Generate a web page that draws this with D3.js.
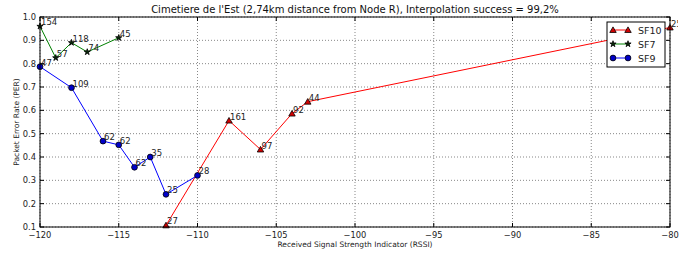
<!DOCTYPE html>
<html>
<head>
<meta charset="utf-8">
<script src="https://cdn.jsdelivr.net/npm/d3@7"></script>
<style>
  body { margin: 0; background: #fff; }
  svg { font-family: "DejaVu Sans", sans-serif; }
</style>
</head>
<body>
<div id="chart"></div>
<script>
const width = 691;
const height = 253;
const margin = { top: 17, right: 21, bottom: 26, left: 40 };

// data
const sf10_rssi = [-112, -108, -106, -104, -103, -80];
const sf10_per = [0.107, 0.556, 0.432, 0.586, 0.637, 0.955];
const sf10_n = [27, 161, 97, 92, 44, 25];

const sf7_rssi = [-120, -119, -118, -117, -115];
const sf7_per = [0.96, 0.825, 0.89, 0.85, 0.911];
const sf7_n = [154, 57, 118, 74, 45];

const sf9_rssi = [-120, -118, -116, -115, -114, -113, -112, -110];
const sf9_per = [0.787, 0.697, 0.468, 0.452, 0.356, 0.4, 0.24, 0.321];
const sf9_n = [47, 109, 62, 62, 62, 35, 25, 28];

const xTicks = [-120, -115, -110, -105, -100, -95, -90, -85, -80];
const yTicks = [0.1, 0.2, 0.3, 0.4, 0.5, 0.6, 0.7, 0.8, 0.9, 1.0];

const series = [
  { name: "SF10", color: "red", legendColor: "#ff8080", marker: "triangle", fill: "#d40000", x: sf10_rssi, y: sf10_per, n: sf10_n },
  { name: "SF7", color: "green", legendColor: "#80c080", marker: "star", fill: "#0a2a0a", x: sf7_rssi, y: sf7_per, n: sf7_n },
  { name: "SF9", color: "blue", legendColor: "#8080ff", marker: "circle", fill: "#0000c8", x: sf9_rssi, y: sf9_per, n: sf9_n }
];

const svg = d3.select("#chart").append("svg")
  .attr("width", width)
  .attr("height", height);

const x = d3.scaleLinear().domain([-120, -80]).range([margin.left, width - margin.right]);
const y = d3.scaleLinear().domain([0.1, 1.0]).range([height - margin.bottom, margin.top]);

const x0 = x.range()[0], x1 = x.range()[1];
const y0 = y.range()[0], y1 = y.range()[1];

// grid
svg.append("g").selectAll("line.gx").data(xTicks).enter().append("line")
  .attr("x1", d => x(d)).attr("x2", d => x(d))
  .attr("y1", y1).attr("y2", y0)
  .attr("stroke", "#555").attr("stroke-width", 0.7).attr("stroke-dasharray", "1,2");
svg.append("g").selectAll("line.gy").data(yTicks).enter().append("line")
  .attr("x1", x0).attr("x2", x1)
  .attr("y1", d => y(d)).attr("y2", d => y(d))
  .attr("stroke", "#555").attr("stroke-width", 0.7).attr("stroke-dasharray", "1,2");

// clip for marks so they don't leave the plot
svg.append("clipPath").attr("id", "plotclip").append("rect")
  .attr("x", x0 - 5).attr("y", y1 - 5).attr("width", x1 - x0 + 10).attr("height", y0 - y1 + 10);
svg.append("clipPath").attr("id", "figclip").append("rect")
  .attr("x", 0).attr("y", 0).attr("width", 678).attr("height", height);

const symbols = {
  triangle: d3.symbol().type(d3.symbolTriangle).size(18),
  star: d3.symbol().type(d3.symbolStar).size(12),
  circle: d3.symbol().type(d3.symbolCircle).size(26)
};

const line = d3.line().x(d => x(d[0])).y(d => y(d[1]));

series.forEach(s => {
  const pts = s.x.map((v, i) => [v, s.y[i], s.n[i]]);
  const g = svg.append("g").attr("clip-path", "url(#plotclip)");
  g.append("path").datum(pts)
    .attr("d", line)
    .attr("fill", "none")
    .attr("stroke", s.color)
    .attr("stroke-width", 1);
  g.selectAll("path.m").data(pts).enter().append("path")
    .attr("transform", d => `translate(${x(d[0])},${y(d[1]) + (s.marker === "triangle" ? 0.6 : 0)})`)
    .attr("d", symbols[s.marker])
    .attr("fill", s.fill)
    .attr("stroke", "#000")
    .attr("stroke-width", 0.8);
  // point labels
  svg.append("g").attr("clip-path", "url(#figclip)")
    .selectAll("text").data(pts).enter().append("text")
    .attr("x", d => x(d[0]) + 1)
    .attr("y", d => y(d[1]) - 1)
    .attr("font-size", 8.5)
    .attr("fill", "#222")
    .text(d => d[2]);
});

// frame
svg.append("rect")
  .attr("x", x0).attr("y", y1).attr("width", x1 - x0).attr("height", y0 - y1)
  .attr("fill", "none").attr("stroke", "#000").attr("stroke-width", 1);

// ticks (inward, all sides)
const tk = 4;
xTicks.forEach(t => {
  svg.append("line").attr("x1", x(t)).attr("x2", x(t)).attr("y1", y0).attr("y2", y0 - tk).attr("stroke", "#000");
  svg.append("line").attr("x1", x(t)).attr("x2", x(t)).attr("y1", y1).attr("y2", y1 + tk).attr("stroke", "#000");
});
yTicks.forEach(t => {
  svg.append("line").attr("x1", x0).attr("x2", x0 + tk).attr("y1", y(t)).attr("y2", y(t)).attr("stroke", "#000");
  svg.append("line").attr("x1", x1).attr("x2", x1 - tk).attr("y1", y(t)).attr("y2", y(t)).attr("stroke", "#000");
});

// tick labels
svg.append("g").selectAll("text").data(xTicks).enter().append("text")
  .attr("x", d => x(d)).attr("y", y0 + 10.5)
  .attr("text-anchor", "middle")
  .attr("font-size", 8.3)
  .attr("fill", "#222")
  .text(d => String(d).replace("-", "\u2212"));
svg.append("g").selectAll("text").data(yTicks).enter().append("text")
  .attr("x", x0 - 4).attr("y", d => y(d) + 3)
  .attr("text-anchor", "end")
  .attr("font-size", 8.3)
  .attr("fill", "#222")
  .text(d => d.toFixed(1));

// axis labels + title
svg.append("text")
  .attr("x", (x0 + x1) / 2).attr("y", 247)
  .attr("text-anchor", "middle").attr("font-size", 7.5).attr("fill", "#222")
  .text("Received Signal Strength Indicator (RSSI)");
svg.append("text")
  .attr("transform", `translate(19,${(y0 + y1) / 2}) rotate(-90)`)
  .attr("text-anchor", "middle").attr("font-size", 7.5).attr("fill", "#222")
  .text("Packet Error Rate (PER)");
svg.append("text")
  .attr("x", (x0 + x1) / 2).attr("y", 13)
  .attr("text-anchor", "middle").attr("font-size", 10).attr("fill", "#111")
  .text("Cimetiere de l'Est (2,74km distance from Node R), Interpolation success = 99,2%");

// legend
const lg = svg.append("g").attr("transform", "translate(607,22)");
lg.append("rect").attr("width", 58).attr("height", 45)
  .attr("fill", "#fff").attr("stroke", "#000").attr("stroke-width", 1);
series.forEach((s, i) => {
  const ly = 8 + i * 14;
  lg.append("line").attr("x1", 6).attr("x2", 21).attr("y1", ly).attr("y2", ly)
    .attr("stroke", s.legendColor).attr("stroke-width", 2);
  [6, 21].forEach(mx => {
    lg.append("path")
      .attr("transform", `translate(${mx},${ly + (s.marker === "triangle" ? 0.6 : 0)})`)
      .attr("d", symbols[s.marker])
      .attr("fill", s.fill).attr("stroke", "#000").attr("stroke-width", 0.8);
  });
  lg.append("text").attr("x", 31).attr("y", ly + 3.5)
    .attr("font-size", 9.5).attr("fill", "#222").text(s.name);
});
</script>
</body>
</html>
